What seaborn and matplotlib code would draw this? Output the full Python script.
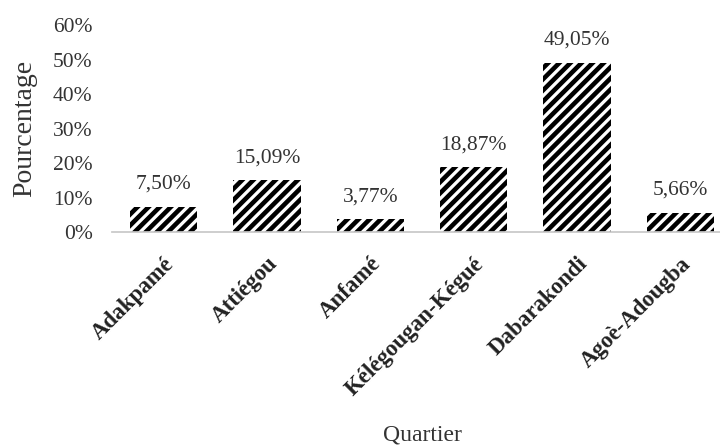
import matplotlib.pyplot as plt
import pandas as pd
import seaborn as sns
from matplotlib.ticker import FixedLocator

quartiers = ['Adakpamé', 'Attiégou', 'Anfamé', 'Kélégougan-Kégué', 'Dabarakondi', 'Agoè-Adougba']
pourcentages = [7.50, 15.09, 3.77, 18.87, 49.05, 5.66]
yticks = [0, 10, 20, 30, 40, 50, 60]

df = pd.DataFrame({'Quartier': quartiers, 'Pourcentage': pourcentages})

sns.set_theme(style='white')
plt.rcParams['font.family'] = ['Liberation Serif', 'DejaVu Serif']
plt.rcParams['hatch.linewidth'] = 3.3

fig = plt.figure(figsize=(7.2, 4.47), dpi=100)
# axes runs a little past the right edge, like the cropped original
ax = fig.add_axes([0.1556, 0.480, 0.861, 0.464])
sns.barplot(data=df, x='Quartier', y='Pourcentage', color='white', width=0.65, ax=ax)
for p in ax.patches:
    p.set_hatch('///')
    p.set_edgecolor('black')
    p.set_linewidth(0)

for p, v in zip(ax.patches, pourcentages):
    ax.annotate(f'{v:.2f}%'.replace('.', ','), (p.get_x() + p.get_width() / 2, p.get_height()),
                xytext=(0, 13), textcoords='offset points',
                ha='center', va='baseline', fontsize=15.5, color='#333333')

ax.set_ylim(0, 60)
ax.set_xlim(-0.5, len(quartiers) - 0.5)
ax.set_yticks(yticks)
ax.set_yticklabels([f'{t}%' for t in yticks], fontsize=15.5, color='#333333')
ax.tick_params(axis='y', length=0, pad=14)
ax.set_xticks(range(len(quartiers)))
ax.set_xticklabels(quartiers, rotation=45, ha='right', rotation_mode='anchor',
                   fontsize=16.5, fontweight='bold', color='#222222')
ax.tick_params(axis='x', which='major', length=0, pad=15)
ax.xaxis.set_minor_locator(FixedLocator([i - 0.5 for i in range(len(quartiers) + 1)]))
ax.tick_params(axis='x', which='minor', length=5, color='#c8c8c8', width=1)

for s in ['top', 'right', 'left']:
    ax.spines[s].set_visible(False)
ax.spines['bottom'].set_color('#c8c8c8')

ax.set_ylabel('Pourcentage', fontsize=20, color='#333333')
ax.yaxis.set_label_coords(-0.121, 0.5)
ax.set_xlabel('Quartier', fontsize=17, color='#333333')
ax.xaxis.set_label_coords(0.5, -0.925)

fig.savefig('out.png', dpi=100)
